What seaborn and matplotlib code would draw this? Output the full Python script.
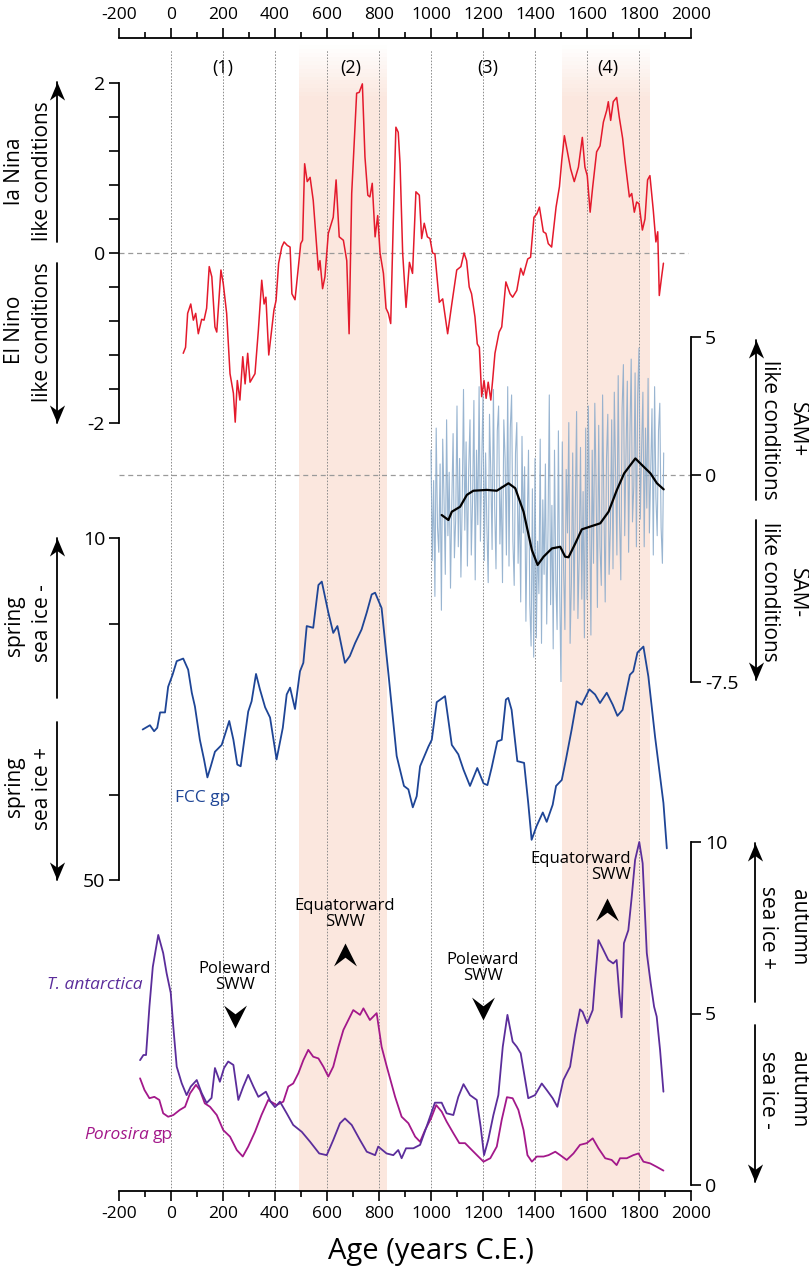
import matplotlib
matplotlib.use("Agg")
import matplotlib.pyplot as plt
import seaborn as sns
from matplotlib.lines import Line2D
from matplotlib.path import Path
from matplotlib.ticker import MultipleLocator, FixedLocator

# --- data --------------------------------------------------------------
# ENSO index (red)
enso_year = [47, 56, 64, 76, 86, 95, 105, 118, 127, 137, 147, 157, 169, 176, 192, 201,
             214, 227, 240, 247, 255, 265, 276, 285, 295, 304, 323, 336, 349, 358, 365,
             376, 396, 404, 414, 426, 435, 447, 458, 465, 477, 490, 499, 506, 514, 524,
             535, 547, 567, 573, 583, 592, 605, 624, 635, 647, 663, 676, 685, 695, 714,
             724, 736, 746, 757, 765, 774, 785, 795, 804, 817, 827, 836, 845, 855, 865,
             874, 881, 891, 904, 917, 929, 942, 955, 964, 974, 986, 996, 1006, 1015, 1032,
             1045, 1064, 1080, 1099, 1115, 1127, 1137, 1147, 1156, 1169, 1178, 1186, 1195,
             1204, 1212, 1220, 1230, 1237, 1246, 1262, 1272, 1288, 1304, 1314, 1330, 1345,
             1355, 1372, 1383, 1396, 1407, 1417, 1432, 1442, 1451, 1464, 1481, 1494, 1503,
             1513, 1526, 1537, 1551, 1567, 1582, 1592, 1601, 1612, 1622, 1637, 1650, 1663,
             1676, 1682, 1691, 1701, 1714, 1724, 1737, 1746, 1763, 1772, 1782, 1791, 1800,
             1813, 1823, 1833, 1842, 1855, 1865, 1872, 1878, 1887, 1894]
enso_val = [-1.18, -1.11, -0.71, -0.60, -0.79, -0.71, -0.95, -0.78, -0.79, -0.65, -0.16,
            -0.28, -0.87, -0.93, -0.20, -0.36, -0.71, -1.42, -1.65, -1.99, -1.50, -1.73,
            -1.22, -1.54, -1.18, -1.52, -1.42, -0.91, -0.32, -0.60, -0.52, -1.20, -0.67,
            -0.56, -0.12, 0.07, 0.13, 0.09, 0.07, -0.48, -0.55, -0.16, 0.11, 0.15, 1.05,
            0.84, 0.89, 0.62, -0.20, -0.09, -0.42, -0.28, 0.23, 0.42, 0.86, 0.19, 0.15,
            -0.09, -0.95, 0.70, 1.88, 1.89, 1.99, 1.13, 0.68, 0.66, 0.82, 0.19, 0.44, 0.00,
            -0.24, -0.65, -0.71, -0.83, 0.38, 1.48, 1.42, 1.05, 0.00, -0.64, -0.11, -0.24,
            0.72, 0.68, 0.17, 0.35, 0.19, 0.17, 0.00, -0.01, -0.58, -0.54, -0.95, -0.60,
            -0.20, -0.16, 0.00, -0.09, -0.40, -0.48, -0.75, -1.07, -1.11, -1.69, -1.50,
            -1.71, -1.52, -1.73, -1.50, -1.18, -0.93, -0.87, -0.34, -0.48, -0.52, -0.44,
            -0.18, -0.26, -0.07, -0.05, 0.42, 0.46, 0.54, 0.25, 0.23, 0.11, 0.07, 0.54,
            0.78, 1.09, 1.38, 1.17, 0.99, 0.84, 1.01, 1.36, 1.01, 0.91, 0.48, 0.78, 1.19,
            1.26, 1.54, 1.68, 1.78, 1.56, 1.78, 1.83, 1.60, 1.35, 1.09, 0.66, 0.70, 0.48,
            0.60, 0.58, 0.27, 0.40, 0.86, 0.91, 0.50, 0.13, 0.25, -0.50, -0.28, -0.12]

# SAM reconstruction, raw (light blue) and smoothed (black)
sam_year = list(range(1000, 1900, 5))
sam_raw = [0.9, -3.1, -0.2, -4.4, 1.7, -1.9, -2.8, 0.4, -4.9, 1.3, -0.8, -3.6, 2.0, -2.2, 0.1, -4.1, -1.0, 1.5, -3.0, -1.6,
           2.5, -2.6, 0.6, -3.7, -1.0, 3.1, -2.0, 1.2, -3.3, 0.2, 2.0, -2.9, -0.9, 2.7, -3.8, 0.9, -1.8, 3.2, -2.4, 0.4,
           2.9, -3.1, 0.8, -1.9, -3.9, 2.2, 0.1, -2.7, 3.1, -1.2, -3.4, 1.6, 2.5, -2.5, -0.4, -3.9, 2.0, 0.6, -2.9, 3.2,
           -3.3, 1.7, 2.9, -2.4, -4.0, 0.8, 1.9, -3.2, -0.9, -4.6, 1.4, -2.1, 0.3, -5.3, -1.8, 0.9, -4.7, -6.2, -0.5, -6.6,
           0.6, -5.9, -2.4, -4.3, 1.3, -6.1, -0.9, -3.6, 0.4, -5.4, -2.0, 2.9, -4.7, -1.1, -6.3, 0.9, -3.8, -5.6, 1.6, -4.2,
           -7.7, 1.2, -3.4, -5.6, 0.2, -2.1, 1.9, -6.1, -3.9, 0.8, -4.9, -1.4, 2.3, -5.2, -3.0, 1.0, -4.5, -0.6, -5.9, 1.7,
           -4.5, 2.5, -1.2, -5.8, 0.9, -3.2, 2.6, -0.4, -4.8, 1.8, -2.6, -4.0, 2.9, -1.1, -4.6, 0.6, 2.2, -3.6, -1.9, 2.0,
           -3.4, 3.0, 0.1, -2.9, 3.6, -1.5, -3.8, 2.4, 4.0, -2.2, 0.8, 3.4, -2.8, 1.4, 4.2, -1.7, -0.4, 3.7, -2.6, 2.9,
           4.6, -1.6, 0.9, 3.0, -2.6, 1.7, -1.2, 3.5, -2.1, 0.2, 2.4, -2.9, 3.2, -0.8, -2.2, 1.6, 2.6, -1.9, -3.2, 0.8]
sam_smooth_year = [1041, 1067, 1080, 1112, 1138, 1163, 1215, 1253, 1298, 1324, 1356, 1388, 1410,
                   1433, 1465, 1497, 1516, 1529, 1555, 1580, 1612, 1651, 1683, 1715, 1743, 1786,
                   1805, 1844, 1869, 1895]
sam_smooth = [-1.45, -1.63, -1.33, -1.15, -0.72, -0.57, -0.54, -0.57, -0.30, -0.48, -1.33, -2.72,
              -3.26, -2.96, -2.66, -2.60, -2.96, -2.98, -2.48, -1.97, -1.87, -1.75, -1.33, -0.54,
              0.06, 0.60, 0.42, 0.06, -0.30, -0.52]

# spring sea ice, FCC gp (blue, inverted axis)
fcc_year = [-109, -81, -65, -53, -42, -23, -11, 6, 22, 47, 66, 80, 92, 111, 127, 140, 153, 169,
            195, 224, 240, 255, 268, 297, 310, 327, 342, 362, 381, 406, 430, 445, 458, 477,
            496, 509, 522, 547, 567, 580, 605, 624, 640, 669, 688, 708, 733, 753, 772, 785,
            810, 836, 868, 896, 913, 930, 945, 958, 990, 1003, 1022, 1054, 1080, 1105, 1125,
            1150, 1178, 1202, 1217, 1233, 1255, 1272, 1288, 1297, 1310, 1332, 1358, 1374,
            1387, 1406, 1430, 1445, 1468, 1481, 1503, 1519, 1541, 1560, 1580, 1609, 1631,
            1650, 1676, 1699, 1717, 1737, 1765, 1778, 1794, 1817, 1836, 1862, 1894, 1907]
fcc_val = [32.4, 31.9, 32.6, 32.2, 30.4, 30.4, 27.4, 26.0, 24.4, 24.1, 25.4, 28.1, 29.7, 33.6,
           35.9, 38.0, 36.7, 35.0, 34.2, 31.4, 33.6, 36.5, 36.7, 30.3, 29.1, 25.9, 27.7, 29.8,
           31.0, 35.9, 32.2, 28.3, 27.5, 30.0, 25.6, 24.6, 20.3, 20.5, 15.5, 15.1, 18.7, 21.1,
           20.3, 24.6, 23.8, 22.3, 20.7, 18.7, 16.6, 16.4, 18.2, 25.8, 35.5, 39.0, 39.4, 41.5,
           40.2, 36.7, 34.4, 33.6, 29.2, 28.5, 34.2, 35.3, 37.1, 39.0, 36.9, 38.7, 38.9, 36.9,
           33.8, 33.6, 28.9, 28.7, 30.1, 36.1, 36.3, 41.0, 45.3, 43.7, 42.1, 43.2, 41.2, 39.0,
           38.3, 35.9, 32.4, 29.1, 29.5, 27.7, 28.3, 29.3, 28.1, 29.5, 30.8, 30.1, 26.0, 25.6,
           23.4, 22.7, 26.2, 33.3, 41.0, 46.3]

# autumn sea ice, T. antarctica (purple) and Porosira gp (magenta)
tant_year = [-119, -106, -96, -83, -70, -49, -30, -17, -1, 9, 22, 41, 60, 76, 99, 118, 137,
             156, 169, 188, 204, 220, 240, 259, 278, 297, 317, 336, 365, 383, 400, 419, 445,
             470, 503, 535, 570, 599, 624, 650, 669, 695, 727, 753, 785, 797, 829, 855, 874,
             887, 904, 932, 958, 983, 1015, 1041, 1060, 1086, 1105, 1125, 1150, 1176, 1191,
             1204, 1220, 1240, 1259, 1276, 1294, 1314, 1330, 1345, 1374, 1400, 1426, 1445,
             1468, 1486, 1509, 1535, 1554, 1573, 1583, 1601, 1622, 1631, 1644, 1660, 1682,
             1701, 1714, 1724, 1733, 1742, 1759, 1772, 1785, 1801, 1814, 1830, 1845, 1858,
             1868, 1881, 1894]
tant_val = [3.64, 3.79, 3.79, 5.20, 6.36, 7.29, 6.76, 6.18, 5.60, 4.60, 3.45, 2.97, 2.62, 2.87,
            3.06, 2.68, 2.39, 2.54, 3.41, 3.01, 3.41, 3.60, 3.50, 2.48, 2.87, 3.21, 2.87, 2.57,
            2.72, 2.43, 2.27, 2.43, 2.09, 1.75, 1.55, 1.26, 0.92, 0.87, 1.31, 1.80, 1.94, 1.75,
            1.31, 0.97, 0.87, 1.12, 0.92, 0.87, 1.02, 0.78, 1.07, 1.07, 1.17, 1.70, 2.40, 2.40,
            2.09, 2.04, 2.57, 2.94, 2.62, 2.48, 1.70, 0.87, 1.31, 2.04, 2.62, 4.03, 4.96, 4.18,
            4.03, 3.84, 2.53, 2.62, 2.96, 2.77, 2.53, 2.28, 3.06, 3.45, 4.37, 5.12, 5.05, 4.71,
            5.10, 5.98, 7.14, 6.90, 6.56, 6.46, 6.56, 5.59, 4.89, 7.05, 7.43, 8.40, 9.48, 10.0,
            9.38, 6.76, 5.88, 5.20, 4.91, 3.94, 2.72]
poro_year = [-119, -102, -83, -64, -45, -30, -11, 9, 34, 54, 73, 96, 111, 130, 150, 176, 201,
             227, 253, 276, 297, 323, 348, 374, 406, 432, 451, 470, 490, 509, 528, 547, 567,
             586, 605, 624, 644, 663, 682, 701, 727, 740, 765, 791, 810, 830, 862, 887, 913,
             939, 958, 977, 1000, 1020, 1041, 1060, 1086, 1109, 1131, 1157, 1182, 1202, 1228,
             1253, 1272, 1292, 1314, 1336, 1356, 1371, 1388, 1407, 1433, 1452, 1478, 1497,
             1522, 1548, 1573, 1599, 1622, 1644, 1670, 1695, 1714, 1727, 1753, 1778, 1798,
             1817, 1843, 1868, 1894]
poro_val = [3.11, 2.77, 2.53, 2.57, 2.48, 2.09, 1.99, 2.04, 2.19, 2.28, 2.67, 2.92, 2.77, 2.38,
            2.28, 2.04, 1.60, 1.41, 1.02, 0.83, 1.12, 1.55, 2.04, 2.48, 2.33, 2.43, 2.87, 2.96,
            3.26, 3.64, 3.94, 3.74, 3.69, 3.45, 3.16, 3.45, 4.03, 4.52, 4.81, 5.10, 4.96, 5.15,
            4.81, 5.01, 4.03, 3.45, 2.57, 1.99, 1.80, 1.41, 1.26, 1.60, 1.94, 2.33, 2.14, 1.85,
            1.51, 1.22, 1.22, 1.02, 0.83, 0.68, 0.78, 1.12, 1.90, 2.56, 2.53, 2.19, 1.60, 0.87,
            0.68, 0.83, 0.83, 0.87, 0.97, 0.87, 0.73, 0.92, 1.17, 1.22, 1.36, 1.07, 0.78, 0.73,
            0.58, 0.78, 0.78, 0.87, 0.92, 0.68, 0.63, 0.53, 0.42]

period_labels = ["(1)", "(2)", "(3)", "(4)"]
period_centres = [200, 690, 1220, 1680]
shaded_spans = [(492, 830), (1505, 1842)]

# --- styling ------------------------------------------------------------
sns.set_theme(style="white")
plt.rcParams["font.family"] = ["Open Sans", "DejaVu Sans"]
plt.rcParams.update({"text.color": "black", "axes.edgecolor": "black",
                     "xtick.color": "black", "ytick.color": "black",
                     "axes.labelcolor": "black", "axes.unicode_minus": False})

RED = "#e41a2c"
SAMBLUE = "#8eadcc"
NAVY = "#1e4596"
PURPLE = "#5b2d9b"
MAGENTA = "#a3188a"
SHADE = "#fbe7de"
GREY = "#9a9a9a"

W, H = 809, 1275
fig = plt.figure(figsize=(W / 100, H / 100), dpi=100)


def fx(x):
    return x / W


def fy(y):
    return 1 - y / H


X0, X1 = 119, 691


def panel(top, bottom):
    ax = fig.add_axes([fx(X0), fy(bottom), (X1 - X0) / W, (bottom - top) / H])
    ax.set_xlim(-200, 2000)
    ax.patch.set_alpha(0)
    for s in ax.spines.values():
        s.set_visible(False)
    ax.set_xticks([])
    ax.grid(False)
    return ax


def left_axis(ax, ticks, labels):
    ax.spines["left"].set_visible(True)
    ax.spines["left"].set_linewidth(1.3)
    ax.yaxis.set_major_locator(FixedLocator(ticks))
    ax.set_yticklabels(labels)
    ax.tick_params(axis="y", left=True, right=False, length=7, width=1.2,
                   labelsize=14, pad=3)


def right_axis(ax, ticks, labels):
    ax.spines["right"].set_visible(True)
    ax.spines["right"].set_linewidth(1.3)
    ax.yaxis.tick_right()
    ax.yaxis.set_major_locator(FixedLocator(ticks))
    ax.set_yticklabels(labels)
    ax.tick_params(axis="y", right=True, left=False, labelright=True,
                   labelleft=False, length=7, width=1.2, labelsize=14, pad=3)


# base frame: top/bottom age axes, dotted grid, shaded intervals
base = fig.add_axes([fx(X0), fy(1191), (X1 - X0) / W, (1191 - 38) / H])
base.set_xlim(-200, 2000)
base.set_ylim(0, 1)
base.set_yticks([])
for side in ["left", "right"]:
    base.spines[side].set_visible(False)
for side in ["top", "bottom"]:
    base.spines[side].set_linewidth(1.3)
base.xaxis.set_major_locator(MultipleLocator(200))
base.xaxis.set_minor_locator(MultipleLocator(100))
base.tick_params(axis="x", which="both", top=True, bottom=True, labeltop=True,
                 labelbottom=True, direction="out", labelsize=12.5, pad=3)
base.tick_params(axis="x", which="major", length=7.5, width=1.2)
base.tick_params(axis="x", which="minor", length=4, width=1.2)

for a, b in shaded_spans:
    base.axvspan(a, b, ymin=0, ymax=0.946, color=SHADE, lw=0, zorder=0)
    n = 14
    for i in range(n):
        lo = 0.946 + i * (0.994 - 0.946) / n
        hi = lo + (0.994 - 0.946) / n
        base.axvspan(a, b, ymin=lo, ymax=hi, color=SHADE, lw=0,
                     alpha=1 - (i + 0.5) / n, zorder=0)

for yr in range(0, 1801, 200):
    base.axvline(yr, ymin=0, ymax=0.99, color="#8c8c8c", lw=0.7,
                 ls=(0, (1.6, 1.6)), zorder=1)

for lab, xc in zip(period_labels, period_centres):
    base.text(xc, 0.974, lab, transform=base.get_xaxis_transform(),
              ha="center", va="center", fontsize=13)

# ENSO panel
enso = panel(83, 423)
enso.set_ylim(-2, 2)
left_axis(enso, [-2, -1.6, -1.2, -0.8, -0.4, 0, 0.4, 0.8, 1.2, 1.6, 2],
          ["-2", "", "", "", "", "0", "", "", "", "", "2"])
enso.axhline(0, xmax=0.995, color=GREY, lw=0.9, ls=(0, (4, 3)))
sns.lineplot(x=enso_year, y=enso_val, ax=enso, color=RED, lw=1.1,
             estimator=None, sort=False, legend=False)

# SAM panel
sam = panel(337, 682)
sam.set_ylim(-7.5, 5)
right_axis(sam, [-7.5, 0, 5], ["-7.5", "0", "5"])
sam.axhline(0, color=GREY, lw=0.9, ls=(0, (4, 3)))
sns.lineplot(x=sam_year, y=sam_raw, ax=sam, color=SAMBLUE, lw=0.8, alpha=0.9,
             estimator=None, sort=False, legend=False)
sns.lineplot(x=sam_smooth_year, y=sam_smooth, ax=sam, color="black", lw=1.6,
             estimator=None, sort=False, legend=False)

# spring sea ice panel
spring = panel(538, 880)
spring.set_ylim(50, 10)
left_axis(spring, [10, 20, 40, 50], ["10", "", "", "50"])
sns.lineplot(x=fcc_year, y=fcc_val, ax=spring, color=NAVY, lw=1.3,
             estimator=None, sort=False, legend=False)
spring.text(15, 40.4, "FCC gp", color=NAVY, fontsize=12.5, ha="left", va="center")

# autumn sea ice panel
aut = panel(842, 1185)
aut.set_ylim(0, 10)
right_axis(aut, [0, 5, 10], ["0", "5", "10"])
sns.lineplot(x=poro_year, y=poro_val, ax=aut, color=MAGENTA, lw=1.3,
             estimator=None, sort=False, legend=False)
sns.lineplot(x=tant_year, y=tant_val, ax=aut, color=PURPLE, lw=1.3,
             estimator=None, sort=False, legend=False)
for line in aut.lines:
    line.set_clip_on(False)
aut.text(-108, 5.83, "T. antarctica", color=PURPLE, fontsize=12.5,
         style="italic", ha="right", va="center")
aut.text(-83, 1.46, "Porosira", color=MAGENTA, fontsize=12.5,
         style="italic", ha="right", va="center")
aut.text(-70, 1.46, "gp", color=MAGENTA, fontsize=12.5, ha="left", va="center")

# chevron markers
chev_up = Path([(0, 0), (0.5, -1), (0, -0.62), (-0.5, -1), (0, 0)],
               [Path.MOVETO, Path.LINETO, Path.LINETO, Path.LINETO, Path.CLOSEPOLY])
chev_down = Path([(0, 0), (0.5, 1), (0, 0.62), (-0.5, 1), (0, 0)],
                 [Path.MOVETO, Path.LINETO, Path.LINETO, Path.LINETO, Path.CLOSEPOLY])
head_up = Path([(0, 0), (0.42, -1), (0, -0.7), (-0.42, -1), (0, 0)],
               [Path.MOVETO, Path.LINETO, Path.LINETO, Path.LINETO, Path.CLOSEPOLY])
head_down = Path([(0, 0), (0.42, 1), (0, 0.7), (-0.42, 1), (0, 0)],
                 [Path.MOVETO, Path.LINETO, Path.LINETO, Path.LINETO, Path.CLOSEPOLY])

# SWW annotations
aut.text(246, 6.06, "Poleward\nSWW", ha="center", va="center", fontsize=12,
         linespacing=1.05)
aut.plot([246], [4.58], marker=chev_down, ms=33, color="black", mew=0, ls="none")
aut.text(669, 7.9, "Equatorward\nSWW", ha="center", va="center", fontsize=12,
         linespacing=1.05)
aut.plot([669], [7.06], marker=chev_up, ms=33, color="black", mew=0, ls="none")
aut.text(1199, 6.33, "Poleward\nSWW", ha="center", va="center", fontsize=12,
         linespacing=1.05)
aut.plot([1199], [4.81], marker=chev_down, ms=33, color="black", mew=0, ls="none")
aut.text(1768, 9.27, "Equatorward\nSWW", ha="right", va="center", fontsize=12,
         linespacing=1.05, multialignment="right")
aut.plot([1676], [8.37], marker=chev_up, ms=33, color="black", mew=0, ls="none")


# side labels with arrows
def side_arrow(x, y0, y1):
    head = head_up if y1 < y0 else head_down
    fig.add_artist(Line2D([fx(x), fx(x)], [fy(y0), fy(y1)], transform=fig.transFigure,
                          color="black", lw=1.3, marker=head, markevery=[1], ms=26,
                          mfc="black", mec="black", mew=0))


def side_text(x, y, s, rot):
    fig.text(fx(x), fy(y), s, rotation=rot, ha="center", va="center", fontsize=15)


side_arrow(57, 242, 82)
side_arrow(57, 263, 423)
side_text(15, 171, "la Nina", 90)
side_text(43, 171, "like conditions", 90)
side_text(15, 330, "El Nino", 90)
side_text(43, 332, "like conditions", 90)

side_arrow(57, 698, 538)
side_arrow(57, 722, 880)
side_text(15, 626, "spring", 90)
side_text(43, 623, "sea ice -", 90)
side_text(15, 787, "spring", 90)
side_text(43, 788, "sea ice +", 90)

side_arrow(756, 500, 340)
side_arrow(756, 520, 680)
side_text(797, 430, "SAM+", 270)
side_text(770, 430, "like conditions", 270)
side_text(797, 593, "SAM-", 270)
side_text(770, 592, "like conditions", 270)

side_arrow(755, 1002, 843)
side_arrow(755, 1025, 1182)
side_text(798, 927, "autumn", 270)
side_text(768, 928, "sea ice +", 270)
side_text(798, 1089, "autumn", 270)
side_text(768, 1090, "sea ice -", 270)

fig.text(fx(431), fy(1252), "Age (years C.E.)", ha="center", va="center", fontsize=21)

fig.savefig("out.png", dpi=100)
